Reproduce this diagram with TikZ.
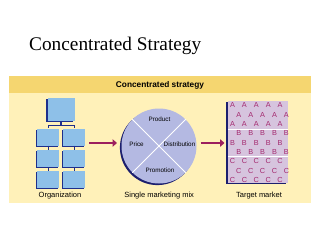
\documentclass[tikz,border=0pt]{standalone}
\usepackage{fontspec}
\setmainfont{Liberation Serif}
\setsansfont{Liberation Sans}
\usetikzlibrary{shadows,arrows.meta}
\definecolor{hdr}{HTML}{F5D670}
\definecolor{panel}{HTML}{FFF1B9}
\definecolor{boxblue}{HTML}{8EC0E8}
\definecolor{navy}{HTML}{1E2F8C}
\definecolor{lav}{HTML}{B4B9E2}
\definecolor{darknavy}{HTML}{1C1F6E}
\definecolor{maroon}{HTML}{9C1F5E}
\definecolor{tgt}{HTML}{D6C4DE}
\definecolor{letter}{HTML}{A3286E}
\tikzset{
  orgbox/.style={rectangle, fill=boxblue, draw=none, inner sep=0pt,
    drop shadow={shadow xshift=-1.2pt, shadow yshift=-1.2pt, fill=navy, opacity=1}},
  conn/.style={draw=navy, line width=1.1pt},
  bigarrow/.style={draw=maroon, line width=2.4pt, -{Triangle[length=4.5pt,width=7.5pt]}},
  lbl/.style={font=\sffamily\fontsize{7.5}{9}\selectfont, inner sep=0pt},
  seg/.style={font=\sffamily\fontsize{6.3}{7.5}\selectfont, inner sep=0pt},
  mk/.style={font=\sffamily\fontsize{7.3}{8}\selectfont, text=letter, inner sep=0pt},
}
\begin{document}
\begin{tikzpicture}[x=1pt,y=-1pt]
\useasboundingbox (0,0) rectangle (320,241);
% title
\node[anchor=base west, inner sep=0pt, font=\fontsize{19.3}{22}\selectfont] (title) at (29,50) {Concentrated Strategy};
% panel
\fill[panel] (9,93) rectangle (311,203);
\fill[hdr] (9,76) rectangle (311,93);
\node[font=\sffamily\bfseries\fontsize{8.3}{10}\selectfont, inner sep=0pt] (header) at (160,85) {Concentrated strategy};
% org chart
\node[orgbox, minimum width=27pt, minimum height=23pt] (top) at (61,109.7) {};
\foreach \r/\y in {1/137,2/158.5,3/179.5}{
  \node[orgbox, minimum width=22pt, minimum height=17pt] (r\r l) at (48.2,\y) {};
  \node[orgbox, minimum width=22pt, minimum height=17pt] (r\r r) at (74.2,\y) {};
}
\draw[conn] (top.south) -- ++(0,4) -| (r1l.north);
\draw[conn] (top.south) -- ++(0,4) -| (r1r.north);
\draw[conn] (r1l.south) -- (r2l.north);
\draw[conn] (r2l.south) -- (r3l.north);
\draw[conn] (r1r.south) -- (r2r.north);
\draw[conn] (r2r.south) -- (r3r.north);
\node[lbl] (orglbl) at (60,196) {Organization};
% circle
\node[circle, fill=lav, minimum size=75pt, inner sep=0pt,
  drop shadow={shadow xshift=-1.6pt, shadow yshift=-1.6pt, fill=darknavy, opacity=1}] (mix) at (159,146) {};
\draw[white, line width=0.8pt] (mix.45) -- (mix.225);
\draw[white, line width=0.8pt] (mix.135) -- (mix.315);
\node[seg] (product) at (159.5,119.5) {Product};
\node[seg] (price) at (136.5,144) {Price};
\node[seg] (distribution) at (179.5,144) {Distribution};
\node[seg] (promotion) at (160,170.5) {Promotion};
\node[lbl] (mixlbl) at (159.2,196) {Single marketing mix};
% target market
\node[rectangle, fill=tgt, minimum width=60pt, minimum height=82pt, inner sep=0pt,
  drop shadow={shadow xshift=-1.6pt, shadow yshift=-1.4pt, fill=darknavy, opacity=1}] (market) at (258,142) {};
\coordinate (s1l) at (228,129); \coordinate (s1r) at (288,129);
\coordinate (s2l) at (228,156); \coordinate (s2r) at (288,156);
\draw[white, line width=1pt] (s1l) -- (s1r);
\draw[white, line width=1pt] (s2l) -- (s2r);
\foreach \L/\row/\y/\xs in {A/1/105/232.5, A/2/114.5/238.8, A/3/124/232.5,
                            B/1/133/238.8, B/2/142.5/232.5, B/3/152/238.8,
                            C/1/161/232.5, C/2/170.5/238.8, C/3/180/232.5}{
  \foreach \k in {0,...,4}{
    \node[mk] (m\L\row\k) at (\xs+11.9*\k,\y) {\L};
  }
}
\node[lbl] (mktlbl) at (259,196) {Target market};
% arrows
\coordinate (a1s) at (89,143); \coordinate (a1e) at (117,143);
\coordinate (a2s) at (200.5,143); \coordinate (a2e) at (224.5,143);
\draw[bigarrow] (a1s) -- (a1e);
\draw[bigarrow] (a2s) -- (a2e);
\end{tikzpicture}
\end{document}
